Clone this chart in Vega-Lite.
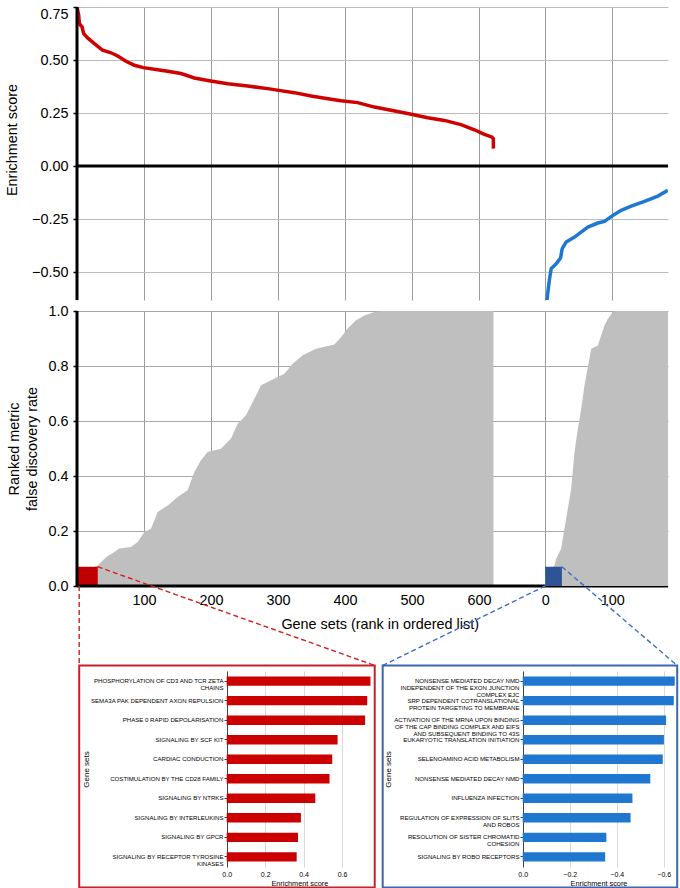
{
  "$schema": "https://vega.github.io/schema/vega-lite/v6.json",
  "autosize": {"type": "pad"},
  "padding": {"left": 4, "top": 5, "right": 2, "bottom": 1},
  "background": "white",
  "bounds": "flush",
  "spacing": 11,
  "config": {
    "view": {"stroke": null},
    "font": "Liberation Sans",
    "axis": {"labelColor": "#000", "titleColor": "#000", "titleFontWeight": "normal", "labelFont": "Liberation Sans", "titleFont": "Liberation Sans"}
  },
  "datasets": {
    "redES": [
      {"rank": 0, "es": 0.75}, {"rank": 2.5, "es": 0.711}, {"rank": 3.5, "es": 0.671}, {"rank": 7.5, "es": 0.656},
      {"rank": 10, "es": 0.624}, {"rank": 15.9, "es": 0.604}, {"rank": 25.9, "es": 0.577}, {"rank": 38.3, "es": 0.546},
      {"rank": 50.8, "es": 0.534}, {"rank": 60.7, "es": 0.519}, {"rank": 73.2, "es": 0.494}, {"rank": 85.6, "es": 0.475},
      {"rank": 99, "es": 0.464}, {"rank": 120.4, "es": 0.454}, {"rank": 135.4, "es": 0.447}, {"rank": 155.3, "es": 0.436},
      {"rank": 175.2, "es": 0.415}, {"rank": 199.6, "es": 0.401}, {"rank": 225, "es": 0.388}, {"rank": 254.8, "es": 0.377},
      {"rank": 284.7, "es": 0.365}, {"rank": 299.1, "es": 0.358}, {"rank": 324.5, "es": 0.346}, {"rank": 349.4, "es": 0.33},
      {"rank": 384.2, "es": 0.313}, {"rank": 394.2, "es": 0.308}, {"rank": 419.1, "es": 0.299}, {"rank": 444, "es": 0.278},
      {"rank": 468.8, "es": 0.263}, {"rank": 499.2, "es": 0.244}, {"rank": 523.6, "es": 0.228}, {"rank": 548.5, "es": 0.215},
      {"rank": 573.3, "es": 0.195}, {"rank": 593.3, "es": 0.171}, {"rank": 608.2, "es": 0.149}, {"rank": 619.1, "es": 0.137},
      {"rank": 621.6, "es": 0.129}, {"rank": 621.7, "es": 0.082}
    ],
    "blueES": [
      {"rank": 2.5, "es": -0.642}, {"rank": 4, "es": -0.594}, {"rank": 6.5, "es": -0.532}, {"rank": 9, "es": -0.484},
      {"rank": 16.4, "es": -0.461}, {"rank": 22.9, "es": -0.434}, {"rank": 25.4, "es": -0.39}, {"rank": 31.4, "es": -0.358},
      {"rank": 43.8, "es": -0.335}, {"rank": 63.7, "es": -0.288}, {"rank": 78.6, "es": -0.269}, {"rank": 88.6, "es": -0.261},
      {"rank": 101, "es": -0.233}, {"rank": 113.5, "es": -0.209}, {"rank": 128.4, "es": -0.189}, {"rank": 148.3, "es": -0.167},
      {"rank": 168.2, "es": -0.142}, {"rank": 183.1, "es": -0.115}
    ],
    "redFDR": [
      {"rank": 0, "fdr": 0.04}, {"rank": 30.9, "fdr": 0.075}, {"rank": 43.3, "fdr": 0.105}, {"rank": 55.7, "fdr": 0.124},
      {"rank": 63.2, "fdr": 0.136}, {"rank": 80.6, "fdr": 0.142}, {"rank": 90.6, "fdr": 0.16}, {"rank": 100.5, "fdr": 0.196},
      {"rank": 110.5, "fdr": 0.208}, {"rank": 120.4, "fdr": 0.269}, {"rank": 135.4, "fdr": 0.293}, {"rank": 150.3, "fdr": 0.324},
      {"rank": 165.2, "fdr": 0.348}, {"rank": 175.2, "fdr": 0.415}, {"rank": 185.1, "fdr": 0.457}, {"rank": 195.1, "fdr": 0.487},
      {"rank": 215, "fdr": 0.499}, {"rank": 229.9, "fdr": 0.536}, {"rank": 239.9, "fdr": 0.59}, {"rank": 252.3, "fdr": 0.621},
      {"rank": 267.3, "fdr": 0.693}, {"rank": 274.7, "fdr": 0.73}, {"rank": 294.6, "fdr": 0.754}, {"rank": 309.6, "fdr": 0.772},
      {"rank": 322, "fdr": 0.808}, {"rank": 336.9, "fdr": 0.839}, {"rank": 356.9, "fdr": 0.863}, {"rank": 384.2, "fdr": 0.878},
      {"rank": 394.2, "fdr": 0.905}, {"rank": 404.1, "fdr": 0.936}, {"rank": 416.6, "fdr": 0.966}, {"rank": 429, "fdr": 0.984},
      {"rank": 444, "fdr": 0.996}, {"rank": 453.9, "fdr": 1.0}, {"rank": 621.7, "fdr": 1.0}
    ],
    "blueFDR": [
      {"rank": 0, "fdr": 0.03}, {"rank": 13.9, "fdr": 0.075}, {"rank": 16.4, "fdr": 0.099}, {"rank": 23.9, "fdr": 0.136},
      {"rank": 27.9, "fdr": 0.196}, {"rank": 33.8, "fdr": 0.281}, {"rank": 38.8, "fdr": 0.354}, {"rank": 43.8, "fdr": 0.487},
      {"rank": 48.8, "fdr": 0.572}, {"rank": 53.8, "fdr": 0.645}, {"rank": 58.7, "fdr": 0.73}, {"rank": 63.7, "fdr": 0.796},
      {"rank": 68.7, "fdr": 0.863}, {"rank": 78.6, "fdr": 0.875}, {"rank": 88.6, "fdr": 0.948}, {"rank": 93.6, "fdr": 0.972},
      {"rank": 101, "fdr": 0.996}, {"rank": 105, "fdr": 1.0}, {"rank": 183.35, "fdr": 1.0}
    ],
    "leadRed": [{"from": 0, "to": 31, "fdr": 0.07}],
    "leadBlue": [{"from": 0, "to": 25, "fdr": 0.07}],
    "topRed": [
      {"set": "PHOSPHORYLATION OF CD3 AND TCR ZETA\nCHAINS", "es": 0.748},
      {"set": "SEMA3A PAK DEPENDENT AXON REPULSION", "es": 0.731},
      {"set": "PHASE 0 RAPID DEPOLARISATION", "es": 0.72},
      {"set": "SIGNALING BY SCF KIT", "es": 0.577},
      {"set": "CARDIAC CONDUCTION", "es": 0.549},
      {"set": "COSTIMULATION BY THE CD28 FAMILY", "es": 0.535},
      {"set": "SIGNALING BY NTRKS", "es": 0.461},
      {"set": "SIGNALING BY INTERLEUKINS", "es": 0.386},
      {"set": "SIGNALING BY GPCR", "es": 0.371},
      {"set": "SIGNALING BY RECEPTOR TYROSINE\nKINASES", "es": 0.364}
    ],
    "topBlue": [
      {"set": "NONSENSE MEDIATED DECAY NMD\nINDEPENDENT OF THE EXON JUNCTION\nCOMPLEX EJC", "es": -0.647},
      {"set": "SRP DEPENDENT COTRANSLATIONAL\nPROTEIN TARGETING TO MEMBRANE", "es": -0.643},
      {"set": "ACTIVATION OF THE MRNA UPON BINDING\nOF THE CAP BINDING COMPLEX AND EIFS\nAND SUBSEQUENT BINDING TO 43S", "es": -0.61},
      {"set": "EUKARYOTIC TRANSLATION INITIATION", "es": -0.601},
      {"set": "SELENOAMINO ACID METABOLISM", "es": -0.596},
      {"set": "NONSENSE MEDIATED DECAY NMD", "es": -0.543},
      {"set": "INFLUENZA INFECTION", "es": -0.467},
      {"set": "REGULATION OF EXPRESSION OF SLITS\nAND ROBOS", "es": -0.459},
      {"set": "RESOLUTION OF SISTER CHROMATID\nCOHESION", "es": -0.356},
      {"set": "SIGNALING BY ROBO RECEPTORS", "es": -0.351}
    ]
  },
  "vconcat": [
    {
      "width": 591,
      "height": 293,
      "layer": [
        {
          "layer": [
            {
              "data": {"name": "redES"},
              "mark": {"type": "line", "color": "#d00000", "strokeWidth": 3.5, "clip": true},
              "encoding": {
                "x": {"field": "rank", "type": "quantitative", "scale": {"domain": [0, 882.35], "nice": false, "zero": false},
                  "axis": {"orient": "bottom", "values": [0, 100, 200, 300, 400, 500, 600], "grid": true, "gridColor": "#9a9a9a", "gridWidth": 1, "labels": false, "ticks": false, "domain": false, "title": null}},
                "y": {"field": "es", "type": "quantitative", "scale": {"domain": [-0.632, 0.75], "nice": false, "zero": false},
                  "axis": {"values": [-0.5, -0.25, 0, 0.25, 0.5, 0.75], "format": ".2f", "grid": true, "gridColor": "#bcbcbc", "gridWidth": 1.2, "domain": false, "tickColor": "#000", "tickSize": 4, "tickWidth": 1.5, "labelFontSize": 14.4, "labelPadding": 5, "labelFlush": true, "title": "Enrichment score", "titleFontSize": 14.4, "titleX": -58, "titleY": 132.5}}
              }
            },
            {
              "data": {"values": [{}]},
              "mark": {"type": "rule", "color": "#000", "strokeWidth": 3},
              "encoding": {"y": {"datum": 0, "type": "quantitative", "scale": {"domain": [-0.632, 0.75], "nice": false, "zero": false}}}
            },
            {
              "data": {"values": [{}]},
              "mark": {"type": "rule", "color": "#000", "strokeWidth": 3},
              "encoding": {"x": {"datum": 0, "type": "quantitative", "scale": {"domain": [0, 882.35], "nice": false, "zero": false}}}
            }
          ]
        },
        {
          "layer": [
            {
              "data": {"name": "blueES"},
              "mark": {"type": "line", "color": "#1e78d2", "strokeWidth": 3.5, "clip": true},
              "encoding": {
                "x": {"field": "rank", "type": "quantitative", "scale": {"domain": [-699, 183.35], "nice": false, "zero": false},
                  "axis": {"orient": "bottom", "values": [0, 100], "grid": true, "gridColor": "#9a9a9a", "gridWidth": 1, "labels": false, "ticks": false, "domain": false, "title": null}},
                "y": {"field": "es", "type": "quantitative", "scale": {"domain": [-0.632, 0.75], "nice": false, "zero": false}}
              }
            }
          ]
        }
      ],
      "resolve": {"scale": {"x": "independent"}, "axis": {"x": "independent"}}
    },
    {
      "width": 591,
      "height": 275,
      "layer": [
        {
          "layer": [
            {
              "data": {"name": "redFDR"},
              "mark": {"type": "area", "color": "#bfbfbf", "opacity": 1},
              "encoding": {
                "x": {"field": "rank", "type": "quantitative", "scale": {"domain": [0, 882.35], "nice": false, "zero": false},
                  "axis": {"orient": "bottom", "values": [100, 200, 300, 400, 500, 600], "grid": true, "gridColor": "#9a9a9a", "gridWidth": 1, "domain": false, "ticks": false, "labelPadding": 7.5, "labelFontSize": 14.4, "title": "Gene sets (rank in ordered list)", "titleFontSize": 14.4, "titleX": 302.7, "titleY": 42.5, "titleBaseline": "alphabetic"}},
                "y": {"field": "fdr", "type": "quantitative", "scale": {"domain": [0, 1], "nice": false, "zero": false},
                  "axis": {"values": [0, 0.2, 0.4, 0.6, 0.8, 1.0], "format": ".1f", "grid": true, "gridColor": "#a8a8a8", "gridWidth": 1.2, "domain": false, "tickColor": "#000", "tickSize": 4, "tickWidth": 1.5, "labelFontSize": 14.4, "labelPadding": 5, "title": ["Ranked metric", "false discovery rate"], "titleFontSize": 14.4, "titleLineHeight": 18, "titleX": -56, "titleY": 137.5}}
              }
            },
            {
              "data": {"name": "leadRed"},
              "mark": {"type": "rect", "color": "#c00000"},
              "encoding": {
                "x": {"field": "from", "type": "quantitative", "scale": {"domain": [0, 882.35], "nice": false, "zero": false}},
                "x2": {"field": "to"},
                "y": {"field": "fdr", "type": "quantitative", "scale": {"domain": [0, 1], "nice": false, "zero": false}},
                "y2": {"datum": 0}
              }
            },
            {
              "data": {"values": [{}]},
              "mark": {"type": "rule", "color": "#000", "strokeWidth": 3},
              "encoding": {"y": {"datum": 0, "type": "quantitative", "scale": {"domain": [0, 1], "nice": false, "zero": false}}}
            },
            {
              "data": {"values": [{}]},
              "mark": {"type": "rule", "color": "#000", "strokeWidth": 3},
              "encoding": {"x": {"datum": 0, "type": "quantitative", "scale": {"domain": [0, 882.35], "nice": false, "zero": false}}}
            },
            {
              "data": {"values": [{}]},
              "mark": {"type": "rule", "color": "#d42020", "strokeWidth": 1.4, "strokeDash": [5, 3]},
              "encoding": {
                "x": {"datum": 3.3, "type": "quantitative", "scale": {"domain": [0, 882.35], "nice": false, "zero": false}},
                "y": {"datum": 0, "type": "quantitative", "scale": {"domain": [0, 1], "nice": false, "zero": false}},
                "x2": {"datum": 3.3},
                "y2": {"datum": -0.289}
              }
            },
            {
              "data": {"values": [{}]},
              "mark": {"type": "rule", "color": "#d42020", "strokeWidth": 1.4, "strokeDash": [5, 3]},
              "encoding": {
                "x": {"datum": 31, "type": "quantitative", "scale": {"domain": [0, 882.35], "nice": false, "zero": false}},
                "y": {"datum": 0.07, "type": "quantitative", "scale": {"domain": [0, 1], "nice": false, "zero": false}},
                "x2": {"datum": 444.5},
                "y2": {"datum": -0.289}
              }
            },
            {
              "data": {"values": [{}]},
              "mark": {"type": "rect", "fillOpacity": 0, "stroke": "#c8202a", "strokeWidth": 2},
              "encoding": {
                "x": {"datum": 3.3, "type": "quantitative", "scale": {"domain": [0, 882.35], "nice": false, "zero": false}},
                "x2": {"datum": 444.5},
                "y": {"datum": -0.289, "type": "quantitative", "scale": {"domain": [0, 1], "nice": false, "zero": false}},
                "y2": {"datum": -1.096}
              }
            }
          ]
        },
        {
          "layer": [
            {
              "data": {"name": "blueFDR"},
              "mark": {"type": "area", "color": "#bfbfbf", "opacity": 1, "clip": true},
              "encoding": {
                "x": {"field": "rank", "type": "quantitative", "scale": {"domain": [-699, 183.35], "nice": false, "zero": false},
                  "axis": {"orient": "bottom", "values": [0, 100], "grid": true, "gridColor": "#9a9a9a", "gridWidth": 1, "domain": false, "ticks": false, "labelPadding": 7.5, "labelFontSize": 14.4, "title": null}},
                "y": {"field": "fdr", "type": "quantitative", "scale": {"domain": [0, 1], "nice": false, "zero": false}}
              }
            },
            {
              "data": {"name": "leadBlue"},
              "mark": {"type": "rect", "color": "#2f5496"},
              "encoding": {
                "x": {"field": "from", "type": "quantitative", "scale": {"domain": [-699, 183.35], "nice": false, "zero": false}},
                "x2": {"field": "to"},
                "y": {"field": "fdr", "type": "quantitative", "scale": {"domain": [0, 1], "nice": false, "zero": false}},
                "y2": {"datum": 0}
              }
            },
            {
              "data": {"values": [{}]},
              "mark": {"type": "rule", "color": "#3c6fc8", "strokeWidth": 1.4, "strokeDash": [5, 3]},
              "encoding": {
                "x": {"datum": 0, "type": "quantitative", "scale": {"domain": [-699, 183.35], "nice": false, "zero": false}},
                "y": {"datum": 0, "type": "quantitative", "scale": {"domain": [0, 1], "nice": false, "zero": false}},
                "x2": {"datum": -242.6},
                "y2": {"datum": -0.289}
              }
            },
            {
              "data": {"values": [{}]},
              "mark": {"type": "rule", "color": "#3c6fc8", "strokeWidth": 1.4, "strokeDash": [5, 3]},
              "encoding": {
                "x": {"datum": 25, "type": "quantitative", "scale": {"domain": [-699, 183.35], "nice": false, "zero": false}},
                "y": {"datum": 0.07, "type": "quantitative", "scale": {"domain": [0, 1], "nice": false, "zero": false}},
                "x2": {"datum": 197.1},
                "y2": {"datum": -0.289}
              }
            },
            {
              "data": {"values": [{}]},
              "mark": {"type": "rect", "fillOpacity": 0, "stroke": "#3d67b0", "strokeWidth": 2},
              "encoding": {
                "x": {"datum": -242.6, "type": "quantitative", "scale": {"domain": [-699, 183.35], "nice": false, "zero": false}},
                "x2": {"datum": 197.1},
                "y": {"datum": -0.289, "type": "quantitative", "scale": {"domain": [0, 1], "nice": false, "zero": false}},
                "y2": {"datum": -1.096}
              }
            }
          ]
        }
      ],
      "resolve": {"scale": {"x": "independent"}, "axis": {"x": "independent"}}
    },
    {
      "width": 591,
      "height": 63,
      "data": {"values": [{}]},
      "mark": {"type": "text", "text": ""},
      "encoding": {}
    },
    {
      "width": 600,
      "height": 196,
      "layer": [
        {
          "data": {"name": "topRed"},
          "mark": {"type": "bar", "color": "#cc0000"},
          "encoding": {
            "y": {"field": "set", "type": "nominal", "sort": null,
              "scale": {"paddingInner": 0.52, "paddingOuter": 0.28},
              "axis": {"orient": "left", "offset": -150, "labelExpr": "split(datum.label, '\\n')", "labelFontSize": 6.1, "labelLineHeight": 7, "labelPadding": 1, "labelLimit": 300, "tickSize": 3, "tickColor": "#444", "domainColor": "#444", "domainWidth": 1, "title": "Gene sets", "titleFontSize": 8, "titleX": -137}},
            "x": {"field": "es", "type": "quantitative", "scale": {"domain": [-0.7789, 2.3428], "nice": false},
              "axis": {"orient": "bottom", "values": [0, 0.2, 0.4, 0.6], "format": ".1f", "grid": true, "gridColor": "#d9d9d9", "domain": false, "ticks": false, "labelFontSize": 7, "labelPadding": 3.7, "title": "Enrichment score", "titleFontSize": 7.3, "titleX": 222.3, "titleY": 18.3, "titleBaseline": "alphabetic"}},
            "x2": {"datum": 0}
          }
        },
        {
          "data": {"name": "topBlue"},
          "mark": {"type": "bar", "color": "#1f77d0"},
          "encoding": {
            "y": {"field": "set", "type": "nominal", "sort": null,
              "scale": {"paddingInner": 0.52, "paddingOuter": 0.28},
              "axis": {"orient": "left", "offset": -446, "labelExpr": "split(datum.label, '\\n')", "labelFontSize": 6.1, "labelLineHeight": 7, "labelPadding": 1, "labelLimit": 300, "tickSize": 3, "tickColor": "#444", "domainColor": "#444", "domainWidth": 1, "title": "Gene sets", "titleFontSize": 8, "titleX": -131}},
            "x": {"field": "es", "type": "quantitative", "scale": {"domain": [-0.6566, 1.8966], "reverse": true, "nice": false},
              "axis": {"orient": "bottom", "values": [0, -0.2, -0.4, -0.6], "format": ".1f", "grid": true, "gridColor": "#d9d9d9", "domain": false, "ticks": false, "labelFontSize": 7, "labelPadding": 3.7, "title": "Enrichment score", "titleFontSize": 7.3, "titleX": 521.5, "titleY": 18.3, "titleBaseline": "alphabetic"}},
            "x2": {"datum": 0}
          }
        }
      ],
      "resolve": {"scale": {"x": "independent", "y": "independent"}, "axis": {"x": "independent", "y": "independent"}}
    }
  ]
}
